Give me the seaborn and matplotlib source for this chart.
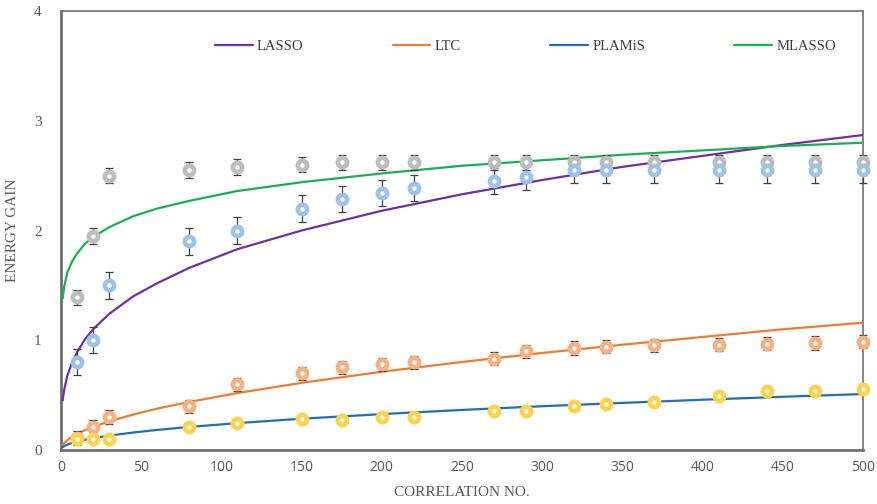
import numpy as np
import pandas as pd
import matplotlib
matplotlib.use("Agg")
import matplotlib.pyplot as plt
import seaborn as sns

# ---- fitted curve data ----
curve_x = [1, 2, 4, 7, 10, 15, 20, 30, 45, 60, 80, 110, 150, 200, 250, 300, 350, 400, 450, 500]
lasso  = [0.45, 0.55, 0.68, 0.80, 0.89, 1.01, 1.10, 1.24, 1.40, 1.52, 1.66, 1.83, 2.00, 2.18, 2.33, 2.46, 2.58, 2.68, 2.78, 2.87]
ltc    = [0.043, 0.062, 0.090, 0.121, 0.146, 0.181, 0.210, 0.261, 0.323, 0.377, 0.438, 0.519, 0.612, 0.713, 0.802, 0.884, 0.959, 1.03, 1.10, 1.16]
plamis = [0.025, 0.035, 0.049, 0.065, 0.077, 0.094, 0.107, 0.131, 0.159, 0.183, 0.210, 0.245, 0.285, 0.327, 0.365, 0.399, 0.429, 0.458, 0.485, 0.51]
mlasso = [1.38, 1.49, 1.62, 1.72, 1.79, 1.88, 1.94, 2.03, 2.13, 2.20, 2.27, 2.36, 2.44, 2.52, 2.59, 2.64, 2.69, 2.73, 2.77, 2.80]

# ---- measured points ----
pts_x = [10, 20, 30, 80, 110, 150, 175, 200, 220, 270, 290, 320, 340, 370, 410, 440, 470, 500]
grey_y   = [1.39, 1.95, 2.50, 2.55, 2.58, 2.60, 2.62, 2.62, 2.62, 2.62, 2.62, 2.62, 2.62, 2.62, 2.62, 2.62, 2.62, 2.62]
grey_err = [0.07] * 18
blue_y   = [0.80, 1.00, 1.50, 1.90, 2.00, 2.20, 2.29, 2.34, 2.39, 2.45, 2.49, 2.55, 2.55, 2.55, 2.55, 2.55, 2.55, 2.55]
blue_err = [0.12] * 18
orange_y   = [0.11, 0.21, 0.30, 0.40, 0.60, 0.70, 0.755, 0.78, 0.80, 0.83, 0.90, 0.93, 0.94, 0.955, 0.96, 0.97, 0.975, 0.985]
orange_err = [0.06] * 18
yellow_y = [0.10, 0.10, 0.10, 0.21, 0.25, 0.28, 0.27, 0.30, 0.30, 0.355, 0.355, 0.40, 0.42, 0.435, 0.49, 0.54, 0.54, 0.56]

series_names = ["LASSO", "LTC", "PLAMiS", "MLASSO"]
line_colors = ["#7030A0", "#ED7D31", "#1F6FB5", "#1AAF54"]

df = pd.DataFrame({
    "x": curve_x * 4,
    "y": lasso + ltc + plamis + mlasso,
    "method": sum([[n] * len(curve_x) for n in series_names], []),
})

sns.set_theme(style="white")
plt.rcParams["font.family"] = ["Liberation Serif", "DejaVu Serif"]

fig = plt.figure(figsize=(8.77, 5.04), dpi=100)
ax = fig.add_axes([61 / 877, 54 / 504, 802 / 877, 439 / 504])

sns.lineplot(data=df, x="x", y="y", hue="method", palette=dict(zip(series_names, line_colors)),
             hue_order=series_names, linewidth=1.6, ax=ax, legend=True, zorder=3)

def pts(y, err, color):
    if err is not None:
        ax.errorbar(pts_x, y, yerr=err, fmt="none", ecolor="#404040", elinewidth=0.9,
                    capsize=3, capthick=0.9, zorder=4, clip_on=False)
    ax.plot(pts_x, y, linestyle="none", marker="o", markersize=6.6, markerfacecolor="white",
            markeredgecolor=color, markeredgewidth=3.4, zorder=5, clip_on=False)

pts(grey_y, grey_err, "#BDBDBD")
pts(blue_y, blue_err, "#9DC3E6")
pts(orange_y, orange_err, "#F4B183")
pts(yellow_y, None, "#FFD34D")

ax.set_xlim(0, 500)
ax.set_ylim(0, 4)
ax.set_xticks(range(0, 501, 50))
ax.set_yticks([0, 1, 2, 3, 4])
ax.tick_params(axis="both", length=0, colors="#595959")
for lab in ax.get_xticklabels():
    lab.set_fontfamily(["Open Sans", "DejaVu Sans"])
    lab.set_fontsize(10)
for lab in ax.get_yticklabels():
    lab.set_fontfamily(["Liberation Serif"])
    lab.set_fontsize(11)
ax.tick_params(axis="x", pad=7)
ax.tick_params(axis="y", pad=14)

for side in ["left", "bottom"]:
    ax.spines[side].set_color("#707070")
    ax.spines[side].set_linewidth(2.0)
for side in ["top", "right"]:
    ax.spines[side].set_color("#707070")
    ax.spines[side].set_linewidth(1.2)
ax.grid(False)

ax.set_xlabel("CORRELATION NO.", fontsize=11, color="#595959", labelpad=8)
ax.set_ylabel("ENERGY GAIN", fontsize=11, color="#595959")
ax.yaxis.set_label_coords(-0.052, 0.5)

old = ax.get_legend()
handles = old.legend_handles
leg = ax.legend(handles=handles, labels=series_names, loc="center", bbox_to_anchor=(0.599, 0.907),
                bbox_transform=fig.transFigure, ncol=4, frameon=False, fontsize=10.5,
                handlelength=2.6, handletextpad=0.3, columnspacing=6.1)
for t in leg.get_texts():
    t.set_color("#404040")

fig.savefig("out.png", dpi=100)
